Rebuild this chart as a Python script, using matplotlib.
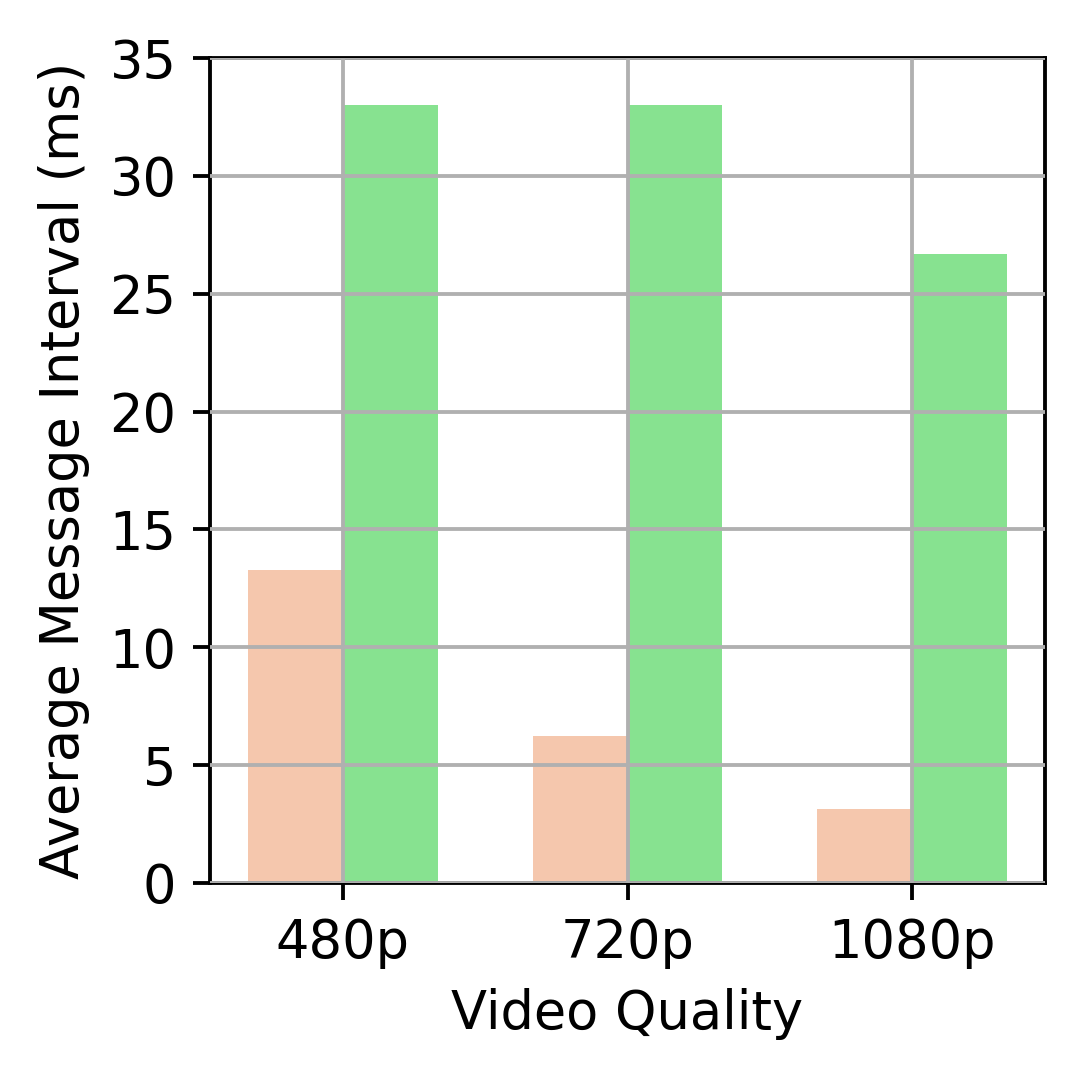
import matplotlib
matplotlib.use("Agg")
import matplotlib.pyplot as plt
import numpy as np

categories = ["480p", "720p", "1080p"]
series_a = [13.3, 6.25, 3.15]
series_b = [33.0, 33.0, 26.7]

s = 1.15
fig = plt.figure(figsize=(1082/300, 1079/300), dpi=300)
ax = fig.add_axes([210/1082, 1 - 883/1079, (1045-210)/1082, (883-58)/1079])
x = np.arange(len(categories))
w = 1/3
ax.bar(x - w/2, series_a, w, color="#F5C7AD")
ax.bar(x + w/2, series_b, w, color="#87E290")
ax.set_axisbelow(False)
ax.grid(True, color="#B0B0B0", linewidth=0.8*s)
for sp in ax.spines.values():
    sp.set_linewidth(0.8*s)
ax.set_ylim(0, 35)
ax.set_xticks(x)
ax.set_xticklabels(categories)
ax.tick_params(labelsize=11*s, length=3.5*s, width=0.8*s, pad=3.5*s)
ax.set_xlabel("Video Quality", fontsize=11*s, labelpad=4*s)
ax.set_ylabel("Average Message Interval (ms)", fontsize=11*s, labelpad=4*s)
fig.savefig("out.png", dpi=300)
